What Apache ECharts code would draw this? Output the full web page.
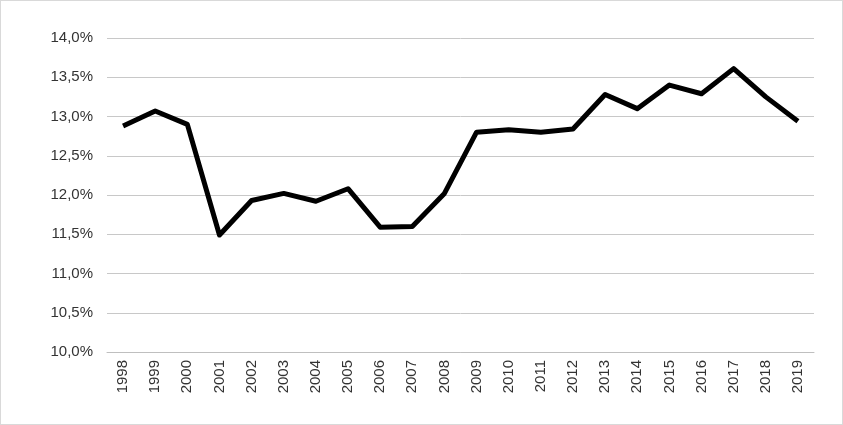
<!DOCTYPE html>
<html>
<head>
<meta charset="utf-8">
<script src="https://cdn.jsdelivr.net/npm/echarts@6/dist/echarts.min.js"></script>
<style>
  html, body { margin: 0; padding: 0; background: #fff; }
  #chart { width: 843px; height: 425px; box-sizing: border-box; border: 1px solid #d9d9d9; }
</style>
</head>
<body>
<div id="chart"></div>
<script>
var years = ['1998','1999','2000','2001','2002','2003','2004','2005','2006','2007','2008',
             '2009','2010','2011','2012','2013','2014','2015','2016','2017','2018','2019'];
var values = [12.88, 13.07, 12.90, 11.49, 11.93, 12.02, 11.92, 12.08, 11.59, 11.60, 12.02,
              12.80, 12.83, 12.80, 12.84, 13.28, 13.10, 13.40, 13.29, 13.61, 13.25, 12.94];

var myChart = echarts.init(document.getElementById('chart'));
var option = {
    animation: false,
    grid: { left: 106, right: 28, top: 37, bottom: 72 },
    xAxis: {
        type: 'category',
        data: years,
        boundaryGap: true,
        axisLine: { lineStyle: { color: '#bfbfbf' } },
        axisTick: { show: false },
        axisLabel: { rotate: 90, color: '#333', fontSize: 15, fontFamily: 'Liberation Sans', margin: 8 }
    },
    yAxis: {
        type: 'value',
        min: 10, max: 14, interval: 0.5,
        axisLine: { show: false },
        axisTick: { show: false },
        splitLine: { lineStyle: { color: '#c8c8c8', width: 1 } },
        axisLabel: {
            color: '#333', fontSize: 15, fontFamily: 'Liberation Sans', margin: 14,
            formatter: function (v) { return v.toFixed(1).replace('.', ',') + '%'; }
        }
    },
    series: [{
        type: 'line',
        data: values,
        symbol: 'none',
        lineStyle: { color: '#000', width: 5, join: 'round' }
    }]
};
myChart.setOption(option);
</script>
</body>
</html>
